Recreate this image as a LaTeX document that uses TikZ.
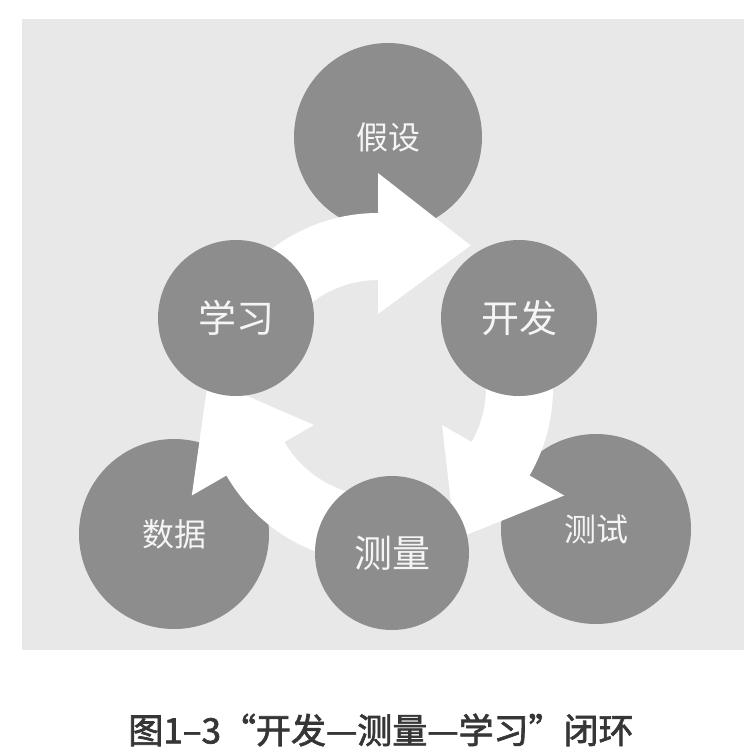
\documentclass[tikz,border=0pt]{standalone}
\usepackage{fontspec}
\newfontfamily\cjk{Noto Sans CJK SC}
\newfontfamily\capcjk[FakeBold=2]{Noto Sans CJK SC}
\usetikzlibrary{positioning}
\definecolor{bggray}{HTML}{E8E8E8}
\definecolor{discgray}{HTML}{8D8D8D}
\definecolor{captext}{HTML}{363636}

\begin{document}
\begin{tikzpicture}[x=1pt, y=1pt,
	disc/.style={circle, fill=discgray, inner sep=0pt, text=white!96!black},
	bigdisc/.style={disc, minimum size=190pt, font=\cjk\fontsize{32}{32}\selectfont},
	smalldisc/.style={disc, minimum size=156pt, font=\cjk\fontsize{38}{38}\selectfont}]
	\useasboundingbox (0,0) rectangle (752,-756);
	\fill[bggray] (22,-19) rectangle (744,-650);
	% outer circles
	\node[bigdisc, minimum size=188pt] (hypothesis) at (388,-137) {假设};
	\node[bigdisc] (data) at (174,-534) {数据};
	\node[bigdisc] (test) at (596,-529) {测试};
	% circular arrows
	\foreach \b in {90,-30,210}
		\fill[white, shift={(378,-388)}]
			(\b+70:175) arc[start angle=\b+70, end angle=\b, radius=175pt]
			-- (\b:215) -- (\b-33:170) -- (\b:74) -- (\b:108)
			arc[start angle=\b, end angle=\b+70, radius=108pt] -- cycle;
	% inner circles
	\node[smalldisc] (learn) at (236,-318) {学习};
	\node[smalldisc] (build) at (519,-318) {开发};
	\node[smalldisc, minimum size=154pt] (measure) at (392,-553) {测量};
	\node[font=\capcjk\fontsize{35}{35}\selectfont, text=captext] (caption) at (381,-730) {图1–3“开发—测量—学习”闭环};
\end{tikzpicture}
\end{document}
